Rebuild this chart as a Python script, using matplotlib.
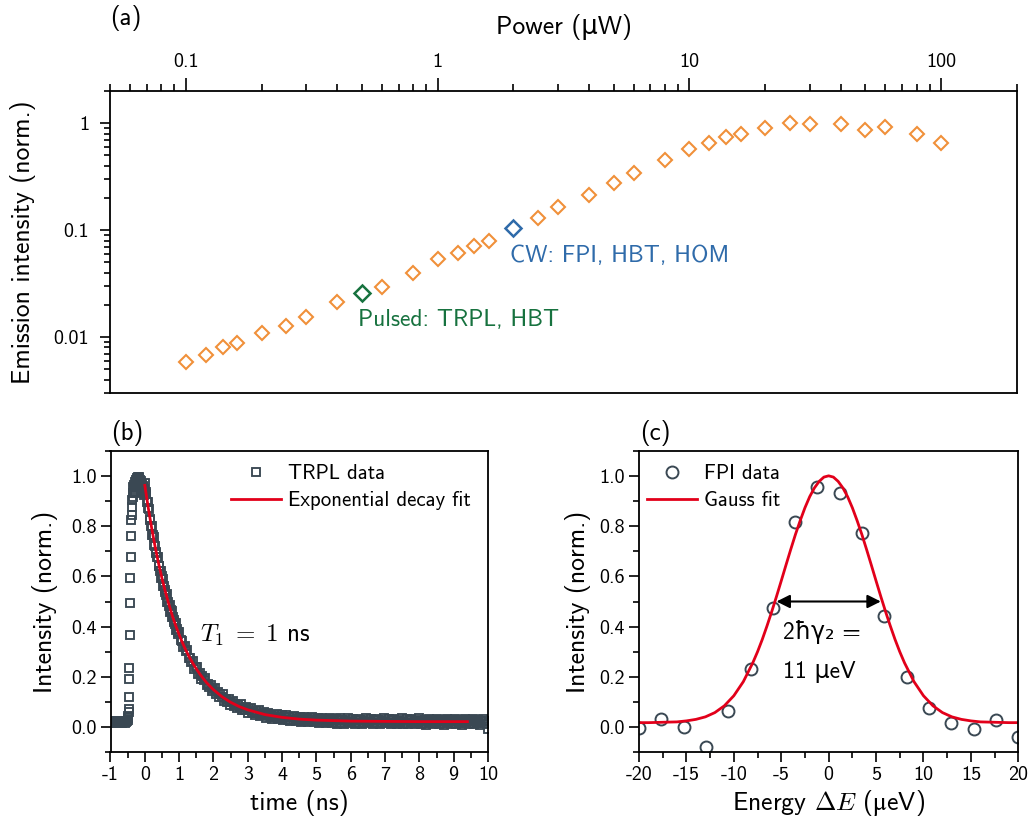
import matplotlib
matplotlib.use("Agg")
import matplotlib.pyplot as plt
from matplotlib import ticker
import numpy as np

# ---------------- data: panel (a) ----------------
power_uW = [0.1, 0.12, 0.14, 0.16, 0.2, 0.25, 0.3, 0.4, 0.6, 0.8, 1.0, 1.2, 1.4, 1.6,
            2.5, 3, 4, 5, 6, 8, 10, 12, 14, 16, 20, 25, 30, 40, 50, 60, 80, 100]
emission = [0.0058, 0.0068, 0.0080, 0.0088, 0.0109, 0.0126, 0.0154, 0.0212, 0.0297, 0.0396,
            0.0539, 0.061, 0.0713, 0.0794, 0.129, 0.164, 0.212, 0.275, 0.341, 0.454,
            0.579, 0.655, 0.750, 0.794, 0.898, 1.0, 0.99, 0.98, 0.866, 0.923, 0.789, 0.659]
pulsed_power = [0.5]
pulsed_emission = [0.0256]
cw_power = [2.0]
cw_emission = [0.104]
power_ticks = [0.1, 1, 10, 100]
power_ticklabels = ["0.1", "1", "10", "100"]
emission_ticks = [0.01, 0.1, 1]
emission_ticklabels = ["0.01", "0.1", "1"]

# ---------------- data: panel (b) TRPL ----------------
# early part (baseline, rise, peak, first ns of decay): explicit times
trpl_time_early = [
    -1.00, -0.975, -0.95, -0.925, -0.90, -0.875, -0.85, -0.825, -0.80, -0.775, -0.75,
    -0.725, -0.70, -0.675, -0.65, -0.625, -0.60, -0.575, -0.55, -0.525, -0.50,
    -0.49, -0.48, -0.47, -0.465, -0.46, -0.455, -0.45, -0.44, -0.43, -0.42, -0.41,
    -0.40, -0.39, -0.38, -0.37, -0.36,
    -0.35, -0.34, -0.33, -0.32, -0.31, -0.30, -0.29, -0.28, -0.27, -0.26, -0.25,
    -0.24, -0.23, -0.22, -0.21, -0.20, -0.19, -0.18, -0.17, -0.16, -0.15, -0.14,
    -0.13, -0.12, -0.11, -0.10, -0.09, -0.08, -0.07, -0.06, -0.05, -0.04, -0.03,
    -0.02, -0.01,
    0.00, 0.02, 0.04, 0.06, 0.08, 0.10, 0.12, 0.14, 0.16, 0.18, 0.20, 0.22, 0.24,
    0.26, 0.28, 0.30, 0.32, 0.34, 0.36, 0.38, 0.40, 0.42, 0.44, 0.46, 0.48, 0.50,
    0.52, 0.54, 0.56, 0.58, 0.60, 0.62, 0.64, 0.66, 0.68, 0.70, 0.72, 0.74, 0.76,
    0.78, 0.80, 0.82, 0.84, 0.86, 0.88, 0.90, 0.92, 0.94, 0.96, 0.98]
trpl_intensity_early = [
    0.021, 0.018, 0.024, 0.020, 0.016, 0.022, 0.019, 0.025, 0.018, 0.021, 0.017,
    0.023, 0.020, 0.016, 0.022, 0.019, 0.024, 0.018, 0.021, 0.026, 0.030,
    0.035, 0.045, 0.060, 0.074, 0.121, 0.190, 0.236, 0.365, 0.496, 0.594, 0.678,
    0.761, 0.824, 0.844, 0.877, 0.903,
    0.930, 0.915, 0.956, 0.940, 0.962, 0.930, 0.975, 0.955, 0.983, 0.960, 0.970,
    0.990, 0.965, 0.985, 0.995, 0.975, 0.990, 0.996, 0.980, 0.990, 0.975, 0.985,
    0.965, 0.978, 0.960, 0.970, 0.952, 0.968, 0.945, 0.960, 0.940, 0.955, 0.930,
    0.948, 0.925,
    0.972, 0.936, 0.928, 0.896, 0.896, 0.871, 0.868, 0.830, 0.824, 0.802, 0.800,
    0.764, 0.765, 0.757, 0.725, 0.721, 0.694, 0.697, 0.676, 0.677, 0.643, 0.641,
    0.622, 0.623, 0.592, 0.600, 0.591, 0.563, 0.562, 0.537, 0.544, 0.526, 0.530,
    0.499, 0.499, 0.484, 0.488, 0.458, 0.466, 0.463, 0.437, 0.439, 0.417, 0.426,
    0.410, 0.416, 0.388, 0.390, 0.377, 0.370]
# later part: histogram bins from 1.00 ns in steps of 0.04 ns
trpl_late_start = 1.00
trpl_late_bin = 0.04
trpl_intensity_late = [
    0.378, 0.347, 0.344, 0.318, 0.323, 0.303, 0.306, 0.274, 0.274, 0.258, 0.262, 0.233,
    0.240, 0.238, 0.213, 0.215, 0.193, 0.203, 0.188, 0.196, 0.168, 0.172, 0.160, 0.168,
    0.142, 0.153, 0.154, 0.132, 0.138, 0.119, 0.132, 0.120, 0.130, 0.105, 0.112, 0.102,
    0.112, 0.089, 0.102, 0.105, 0.085, 0.092, 0.075, 0.090, 0.080, 0.091, 0.068, 0.076,
    0.068, 0.079, 0.057, 0.071, 0.075, 0.057, 0.065, 0.049, 0.065, 0.055, 0.068, 0.046,
    0.054, 0.047, 0.059, 0.038, 0.053, 0.058, 0.040, 0.049, 0.034, 0.050, 0.041, 0.054,
    0.032, 0.042, 0.035, 0.047, 0.027, 0.042, 0.047, 0.030, 0.039, 0.025, 0.041, 0.033,
    0.046, 0.025, 0.034, 0.028, 0.040, 0.020, 0.035, 0.041, 0.024, 0.033, 0.019, 0.036,
    0.027, 0.041, 0.020, 0.029, 0.023, 0.036, 0.016, 0.031, 0.037, 0.020, 0.030, 0.016,
    0.032, 0.024, 0.038, 0.017, 0.027, 0.021, 0.033, 0.013, 0.029, 0.035, 0.018, 0.028,
    0.014, 0.030, 0.022, 0.036, 0.015, 0.025, 0.019, 0.032, 0.012, 0.028, 0.034, 0.017,
    0.027, 0.013, 0.030, 0.022, 0.036, 0.015, 0.025, 0.019, 0.032, 0.012, 0.028, 0.034,
    0.017, 0.027, 0.013, 0.030, 0.022, 0.036, 0.015, 0.024, 0.018, 0.031, 0.011, 0.027,
    0.033, 0.016, 0.026, 0.012, 0.029, 0.021, 0.035, 0.014, 0.024, 0.018, 0.031, 0.011,
    0.027, 0.033, 0.016, 0.026, 0.012, 0.029, 0.021, 0.035, 0.013, 0.023, 0.017, 0.030,
    0.010, 0.026, 0.032, 0.015, 0.025, 0.011, 0.028, 0.020, 0.034, 0.013, 0.023, 0.017,
    0.030, 0.010, 0.026, 0.032, 0.015, 0.025, 0.011, 0.028, 0.020, 0.034, 0.013, 0.023,
    0.017, 0.030, 0.010, 0.026, 0.032, 0.015, 0.025, 0.011, 0.028, 0.020, 0.034, 0.013,
    0.023, 0.017, 0.030, 0.010, 0.026, 0.032, 0.015, 0.025, 0.011, -0.006]
fit_time = [0.0, 0.1, 0.2, 0.3, 0.4, 0.5, 0.6, 0.7, 0.8, 0.9, 1.0, 1.1, 1.2, 1.3, 1.4,
            1.5, 1.6, 1.7, 1.8, 1.9, 2.0, 2.25, 2.5, 2.75, 3.0, 3.5, 4.0, 4.5, 5.0,
            5.5, 6.0, 7.0, 8.0, 9.0, 9.4]
fit_intensity = [0.962, 0.873, 0.792, 0.718, 0.652, 0.592, 0.538, 0.489, 0.444, 0.404,
                 0.368, 0.335, 0.305, 0.278, 0.254, 0.232, 0.212, 0.194, 0.177, 0.163,
                 0.149, 0.121, 0.099, 0.082, 0.069, 0.050, 0.039, 0.032, 0.028, 0.026,
                 0.024, 0.023, 0.022, 0.022, 0.022]

# ---------------- data: panel (c) FPI ----------------
fpi_energy = [-20.0, -17.65, -15.29, -12.94, -10.59, -8.24, -5.88, -3.53, -1.18,
              1.18, 3.53, 5.88, 8.24, 10.59, 12.94, 15.29, 17.65, 20.0]
fpi_intensity = [-0.004, 0.032, 0.001, -0.078, 0.066, 0.231, 0.476, 0.815, 0.954,
                 0.930, 0.773, 0.444, 0.198, 0.076, 0.015, -0.007, 0.028, -0.039]
gauss_energy = [-20, -19, -18, -17, -16, -15, -14, -13, -12, -11, -10, -9,
                -8, -7.5, -7, -6.5, -6, -5.5, -5, -4.5, -4, -3.5, -3, -2.5, -2, -1.5,
                -1, -0.5, 0, 0.5, 1, 1.5, 2, 2.5, 3, 3.5, 4, 4.5, 5, 5.5, 6, 6.5, 7,
                7.5, 8, 9, 10, 11, 12, 13, 14, 15, 16, 17, 18, 19, 20]
gauss_intensity = [0.018, 0.018, 0.019, 0.020, 0.021, 0.025, 0.031, 0.041, 0.058, 0.085,
                   0.125, 0.181, 0.256, 0.300, 0.349, 0.403, 0.460, 0.520, 0.582, 0.645,
                   0.707, 0.767, 0.822, 0.873, 0.917, 0.952, 0.978, 0.995, 1.000, 0.995,
                   0.978, 0.952, 0.917, 0.873, 0.822, 0.767, 0.707, 0.645, 0.582, 0.520,
                   0.460, 0.403, 0.349, 0.300, 0.256, 0.181, 0.125, 0.085, 0.058, 0.041,
                   0.031, 0.025, 0.021, 0.020, 0.019, 0.018, 0.018]
fwhm_half = 5.5  # ueV, half of the 11 ueV linewidth

# ---------------- style ----------------
ORANGE = "#F0903A"
BLUE = "#2F6BAA"
GREEN = "#17723F"
SLATE = "#3A4853"
RED = "#E2001A"
MU = "\u03bc"

plt.rcParams["font.family"] = ["cmss10", "DejaVu Sans"]
plt.rcParams["mathtext.fontset"] = "cm"
plt.rcParams["mathtext.fallback"] = "stix"
plt.rcParams["axes.unicode_minus"] = False
plt.rcParams["axes.formatter.use_mathtext"] = True
plt.rcParams["axes.linewidth"] = 1.3

TICK_FS = 14.5
LABEL_FS = 18.5
LEG_FS = 15

fig = plt.figure(figsize=(10.3, 8.25), dpi=100)
axA = fig.add_axes([110 / 1030, 1 - 393 / 825, 907 / 1030, 302 / 825])
axB = fig.add_axes([110.5 / 1030, 1 - 752.3 / 825, 377.5 / 1030, 301.6 / 825])
axC = fig.add_axes([639 / 1030, 1 - 752.3 / 825, 379.3 / 1030, 301.6 / 825])

# ---------------- panel (a) ----------------
axA.set_xscale("log")
axA.set_yscale("log")
axA.plot(power_uW, emission, "D", mfc="none", mec=ORANGE, ms=7.3, mew=1.5)
axA.plot(pulsed_power, pulsed_emission, "D", mfc="none", mec=GREEN, ms=8.3, mew=1.8)
axA.plot(cw_power, cw_emission, "D", mfc="none", mec=BLUE, ms=8.3, mew=1.8)
axA.set_xlim(0.05, 200)
axA.set_ylim(0.003, 2)
axA.xaxis.set_major_locator(ticker.FixedLocator(power_ticks))
axA.xaxis.set_major_formatter(ticker.FixedFormatter(power_ticklabels))
axA.xaxis.set_minor_locator(ticker.LogLocator(base=10, subs=np.arange(2, 10)))
axA.xaxis.set_minor_formatter(ticker.NullFormatter())
axA.yaxis.set_major_locator(ticker.FixedLocator(emission_ticks))
axA.yaxis.set_major_formatter(ticker.FixedFormatter(emission_ticklabels))
axA.yaxis.set_minor_locator(ticker.LogLocator(base=10, subs=np.arange(2, 10)))
axA.yaxis.set_minor_formatter(ticker.NullFormatter())
axA.xaxis.tick_top()
axA.xaxis.set_label_position("top")
axA.tick_params(axis="x", which="both", top=True, bottom=False, direction="out",
                labelsize=TICK_FS, width=1.2)
axA.tick_params(axis="x", which="major", length=9.5, pad=5)
axA.tick_params(axis="x", which="minor", length=5)
axA.tick_params(axis="y", which="both", left=True, right=False, direction="out",
                labelsize=TICK_FS, width=1.2)
axA.tick_params(axis="y", which="major", length=7, pad=8)
axA.tick_params(axis="y", which="minor", length=4)
axA.set_xlabel(f"Power ({MU}W)", fontsize=LABEL_FS, va="center")
axA.xaxis.set_label_coords(0.5, (393 - 27) / 302)
axA.set_ylabel("Emission intensity (norm.)", fontsize=LABEL_FS, va="center")
axA.yaxis.set_label_coords((23 - 110) / 907, 0.5)
axA.text(1.93, 0.0567, "CW: FPI, HBT, HOM", color=BLUE, fontsize=17,
         ha="left", va="center")
axA.text(0.485, 0.0143, "Pulsed: TRPL, HBT", color=GREEN, fontsize=17,
         ha="left", va="center")

# ---------------- panel (b) ----------------
trpl_time_late = trpl_late_start + trpl_late_bin * np.arange(len(trpl_intensity_late))
trpl_time = list(trpl_time_early) + list(trpl_time_late)
trpl_intensity = list(trpl_intensity_early) + list(trpl_intensity_late)
axB.plot(trpl_time, trpl_intensity, "s", mfc="none", mec=SLATE, ms=5.2, mew=1.35,
         label="TRPL data")
axB.plot(fit_time, fit_intensity, "-", color=RED, lw=2.0, label="Exponential decay fit")
axB.set_xlim(-1, 10)
axB.set_ylim(-0.1, 1.1)
axB.xaxis.set_major_locator(ticker.MultipleLocator(1))
axB.xaxis.set_minor_locator(ticker.MultipleLocator(0.5))
axB.xaxis.set_major_formatter(ticker.FuncFormatter(lambda v, p: f"{v:g}"))
axB.yaxis.set_major_locator(ticker.FixedLocator([0, 0.2, 0.4, 0.6, 0.8, 1.0]))
axB.yaxis.set_minor_locator(ticker.MultipleLocator(0.1))
axB.yaxis.set_major_formatter(ticker.FuncFormatter(lambda v, p: f"{v:.1f}"))
axB.text(1.6, 0.366, r"$T_1\;=\;\mathsf{1}$ ns", fontsize=18, ha="left", va="center")
axB.set_xlabel("time (ns)", fontsize=LABEL_FS, va="center")
axB.xaxis.set_label_coords(0.5, (752.3 - 803) / 301.6)
axB.set_ylabel("Intensity (norm.)", fontsize=LABEL_FS, va="center")
axB.yaxis.set_label_coords((45 - 110.5) / 377.5, 0.5)
axB.legend(loc="upper right", bbox_to_anchor=((471 - 110.5) / 377.5, (752.3 - 464) / 301.6),
           frameon=False, fontsize=LEG_FS, handlelength=2.4, handletextpad=0.35,
           labelspacing=0.38, borderaxespad=0.0, borderpad=0.0)

# ---------------- panel (c) ----------------
axC.plot(fpi_energy, fpi_intensity, "o", mfc="none", mec=SLATE, ms=8.6, mew=1.4,
         label="FPI data")
axC.plot(gauss_energy, gauss_intensity, "-", color=RED, lw=2.0, label="Gauss fit")
axC.set_xlim(-20, 20)
axC.set_ylim(-0.1, 1.1)
axC.xaxis.set_major_locator(ticker.MultipleLocator(5))
axC.xaxis.set_minor_locator(ticker.MultipleLocator(2.5))
axC.xaxis.set_major_formatter(ticker.FuncFormatter(lambda v, p: f"{v:g}"))
axC.yaxis.set_major_locator(ticker.FixedLocator([0, 0.2, 0.4, 0.6, 0.8, 1.0]))
axC.yaxis.set_minor_locator(ticker.MultipleLocator(0.1))
axC.yaxis.set_major_formatter(ticker.FuncFormatter(lambda v, p: f"{v:.1f}"))
axC.annotate("", xy=(-fwhm_half, 0.5), xytext=(fwhm_half, 0.5),
             arrowprops=dict(arrowstyle="<|-|>", color="black", lw=1.5,
                             mutation_scale=20, shrinkA=0, shrinkB=0))
axC.text(-4.8, 0.38, "2ħγ₂ =", fontsize=17, ha="left", va="center")
axC.text(-4.8, 0.22, f"11 {MU}eV", fontsize=17, ha="left", va="center")
axC.set_xlabel(r"Energy $\Delta E$ ($\mathrm{" + MU + r"}$eV)", fontsize=LABEL_FS,
               va="center")
axC.xaxis.set_label_coords(0.5, (752.3 - 803) / 301.6)
axC.set_ylabel("Intensity (norm.)", fontsize=LABEL_FS, va="center")
axC.yaxis.set_label_coords((578 - 639) / 379.3, 0.5)
axC.legend(loc="upper left", bbox_to_anchor=((647 - 639) / 379.3, (752.3 - 464) / 301.6),
           frameon=False, fontsize=LEG_FS, handlelength=2.4, handletextpad=0.35,
           labelspacing=0.38, borderaxespad=0.0, borderpad=0.0)

for ax in (axB, axC):
    ax.tick_params(axis="both", which="both", direction="out", labelsize=TICK_FS,
                   width=1.2, top=False, right=False)
    ax.tick_params(axis="both", which="major", length=7, pad=3)
    ax.tick_params(axis="both", which="minor", length=4)

fig.text(126 / 1030, 1 - 18 / 825, "(a)", fontsize=18, ha="center", va="center")
fig.text(127 / 1030, 1 - 433 / 825, "(b)", fontsize=18, ha="center", va="center")
fig.text(655 / 1030, 1 - 433 / 825, "(c)", fontsize=18, ha="center", va="center")

fig.savefig("out.png", dpi=100)
